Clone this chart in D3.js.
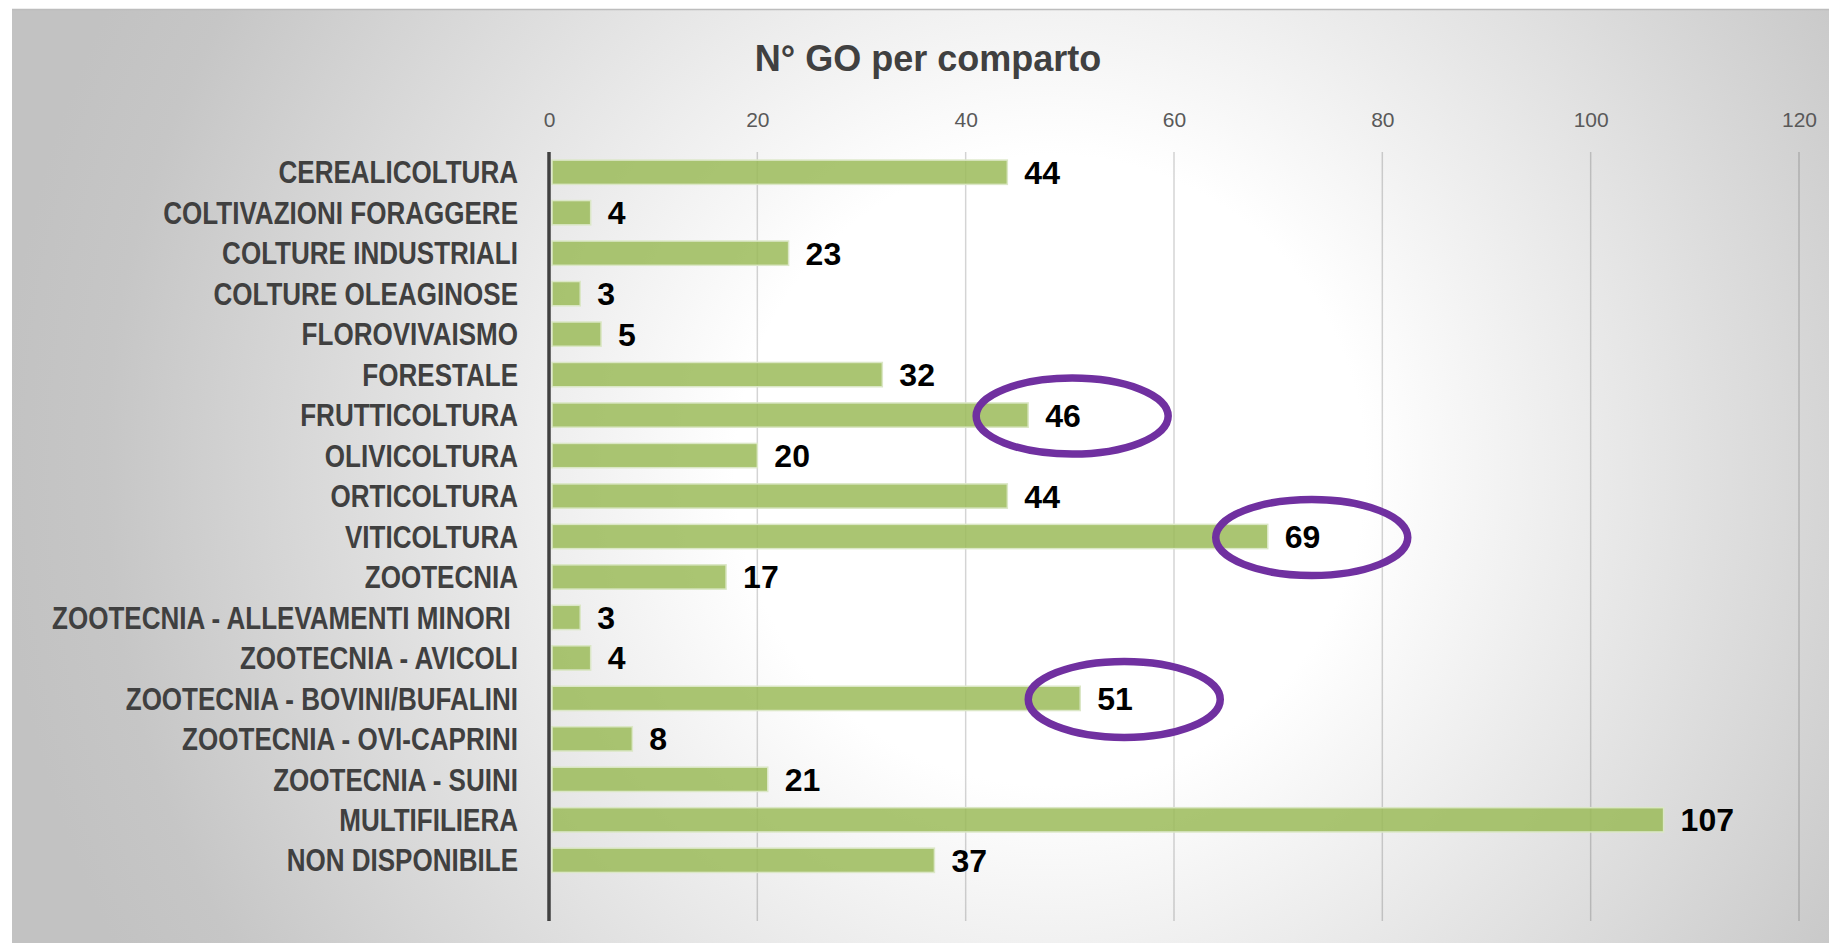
<!DOCTYPE html>
<html>
	<head>
		<meta charset="utf-8">
		<title>N° GO per comparto</title>
		<script src="https://d3js.org/d3.v7.min.js"></script>
		<style>
			html, body
			{
				margin: 0;
				background: #fff;
				overflow: hidden;
			}

			text
			{
				white-space: pre;
			}

			.cat-label
			{
				font-family: "Liberation Sans", Arial, sans-serif;
				font-weight: bold;
				font-size: 31px;
				fill: #404040;
			}

			.value-label
			{
				font-family: "Liberation Sans", Arial, sans-serif;
				font-weight: bold;
				font-size: 32px;
				fill: #000;
			}

			.tick-label
			{
				font-family: "Liberation Sans", Arial, sans-serif;
				font-size: 21px;
				fill: #595959;
			}

			.title
			{
				font-family: "Liberation Sans", Arial, sans-serif;
				font-weight: bold;
				font-size: 36px;
				fill: #404040;
			}
		</style>
	</head>
	<body>
		<svg id="chart"></svg>

		<script>
			// data
			let categories = [
				"CEREALICOLTURA",
				"COLTIVAZIONI FORAGGERE",
				"COLTURE INDUSTRIALI",
				"COLTURE OLEAGINOSE",
				"FLOROVIVAISMO",
				"FORESTALE",
				"FRUTTICOLTURA",
				"OLIVICOLTURA",
				"ORTICOLTURA",
				"VITICOLTURA",
				"ZOOTECNIA",
				"ZOOTECNIA - ALLEVAMENTI MINORI ",
				"ZOOTECNIA - AVICOLI",
				"ZOOTECNIA - BOVINI/BUFALINI",
				"ZOOTECNIA - OVI-CAPRINI",
				"ZOOTECNIA - SUINI",
				"MULTIFILIERA",
				"NON DISPONIBILE"
			];
			let values = [44, 4, 23, 3, 5, 32, 46, 20, 44, 69, 17, 3, 4, 51, 8, 21, 107, 37];
			let xTicks = [0, 20, 40, 60, 80, 100, 120];
			let highlighted = ["FRUTTICOLTURA", "VITICOLTURA", "ZOOTECNIA - BOVINI/BUFALINI"];
			let title = "N° GO per comparto";

			let width = 1829, height = 943;
			let labelSquash = 0.84;   // no narrow font installed, so squeeze the category labels

			let svg = d3.select("#chart")
				.attr("width", width)
				.attr("height", height);

			// background: grey at the sides, white in the middle
			let defs = svg.append("defs");
			let grad = defs.append("radialGradient")
				.attr("id", "bg")
				.attr("gradientUnits", "userSpaceOnUse")
				.attr("cx", 1050).attr("cy", 470).attr("r", 1050);
			grad.append("stop").attr("offset", "0").attr("stop-color", "#ffffff");
			grad.append("stop").attr("offset", "0.3").attr("stop-color", "#ffffff");
			grad.append("stop").attr("offset", "0.9").attr("stop-color", "#c6c6c6");
			grad.append("stop").attr("offset", "1").attr("stop-color", "#c2c2c2");

			svg.append("rect")
				.attr("x", 12).attr("y", 9)
				.attr("width", width - 12).attr("height", height - 9)
				.attr("fill", "url(#bg)");

			svg.append("line")
				.attr("x1", 12).attr("x2", width)
				.attr("y1", 9.5).attr("y2", 9.5)
				.attr("stroke", "#bdbdbd").attr("stroke-width", 1.5);

			// scales
			let plotTop = 152, plotBottom = 921;
			let step = (plotBottom - plotTop) / (categories.length + 1);   // one empty slot at the bottom

			let x = d3.scaleLinear()
				.domain([0, 120])
				.range([549, 1799]);

			let y = d3.scaleBand()
				.domain(categories)
				.range([plotTop, plotTop + step * categories.length])
				.paddingInner(0.4)
				.paddingOuter(0.2);

			// title
			svg.append("text")
				.attr("class", "title")
				.attr("x", 928)
				.attr("y", 71)
				.attr("text-anchor", "middle")
				.text(title);

			// top axis with gridlines
			let xAxis = d3.axisTop(x)
				.tickValues(xTicks)
				.tickSize(0)
				.tickPadding(0);

			let gx = svg.append("g")
				.attr("transform", "translate(0,127)")
				.call(xAxis);
			gx.select(".domain").remove();
			gx.selectAll("text")
				.attr("class", "tick-label")
				.attr("fill", null)
				.attr("font-family", null)
				.attr("font-size", null)
				.attr("dy", 0);

			svg.append("g")
				.selectAll("line")
				.data(xTicks.filter(d => d > 0))
				.join("line")
					.attr("x1", d => x(d)).attr("x2", d => x(d))
					.attr("y1", plotTop).attr("y2", plotBottom)
					.attr("stroke", "rgba(0,0,0,0.17)")
					.attr("stroke-width", 1.5);

			// bars
			let data = categories.map((c, i) => ({ cat: c, value: values[i] }));

			svg.append("g")
				.selectAll("rect")
				.data(data)
				.join("rect")
					.attr("x", x(0) + 3)
					.attr("y", d => y(d.cat))
					.attr("width", d => x(d.value) - x(0) - 3)
					.attr("height", y.bandwidth())
					.attr("fill", "#9bbb59")
					.attr("fill-opacity", 0.85)
					.attr("stroke", "#dbe7c6")
					.attr("stroke-width", 1.5);

			// vertical category axis
			let yAxis = d3.axisLeft(y)
				.tickSize(0)
				.tickPadding(31);

			let gy = svg.append("g")
				.attr("transform", `translate(${x(0)},0)`)
				.call(yAxis);
			gy.select(".domain").remove();
			gy.selectAll("text")
				.attr("class", "cat-label")
				.attr("fill", null)
				.attr("font-family", null)
				.attr("font-size", null)
				.attr("x", -31 / labelSquash)
				.attr("transform", `scale(${labelSquash},1)`)
				.attr("dy", "0.36em");

			svg.append("line")
				.attr("x1", x(0)).attr("x2", x(0))
				.attr("y1", plotTop).attr("y2", plotBottom)
				.attr("stroke", "#404040")
				.attr("stroke-width", 3.5);

			// value labels
			svg.append("g")
				.selectAll("text")
				.data(data)
				.join("text")
					.attr("class", "value-label")
					.attr("x", d => x(d.value) + 17)
					.attr("y", d => y(d.cat) + y.bandwidth() / 2)
					.attr("dy", "0.36em")
					.text(d => d.value);

			// purple rings round the highlighted values
			svg.append("g")
				.selectAll("ellipse")
				.data(data.filter(d => highlighted.includes(d.cat)))
				.join("ellipse")
					.attr("cx", d => x(d.value) + 44)
					.attr("cy", d => y(d.cat) + y.bandwidth() / 2 + 1)
					.attr("rx", 96)
					.attr("ry", 38)
					.attr("fill", "none")
					.attr("stroke", "#7030a0")
					.attr("stroke-width", 7.5);
		</script>
	</body>
</html>
